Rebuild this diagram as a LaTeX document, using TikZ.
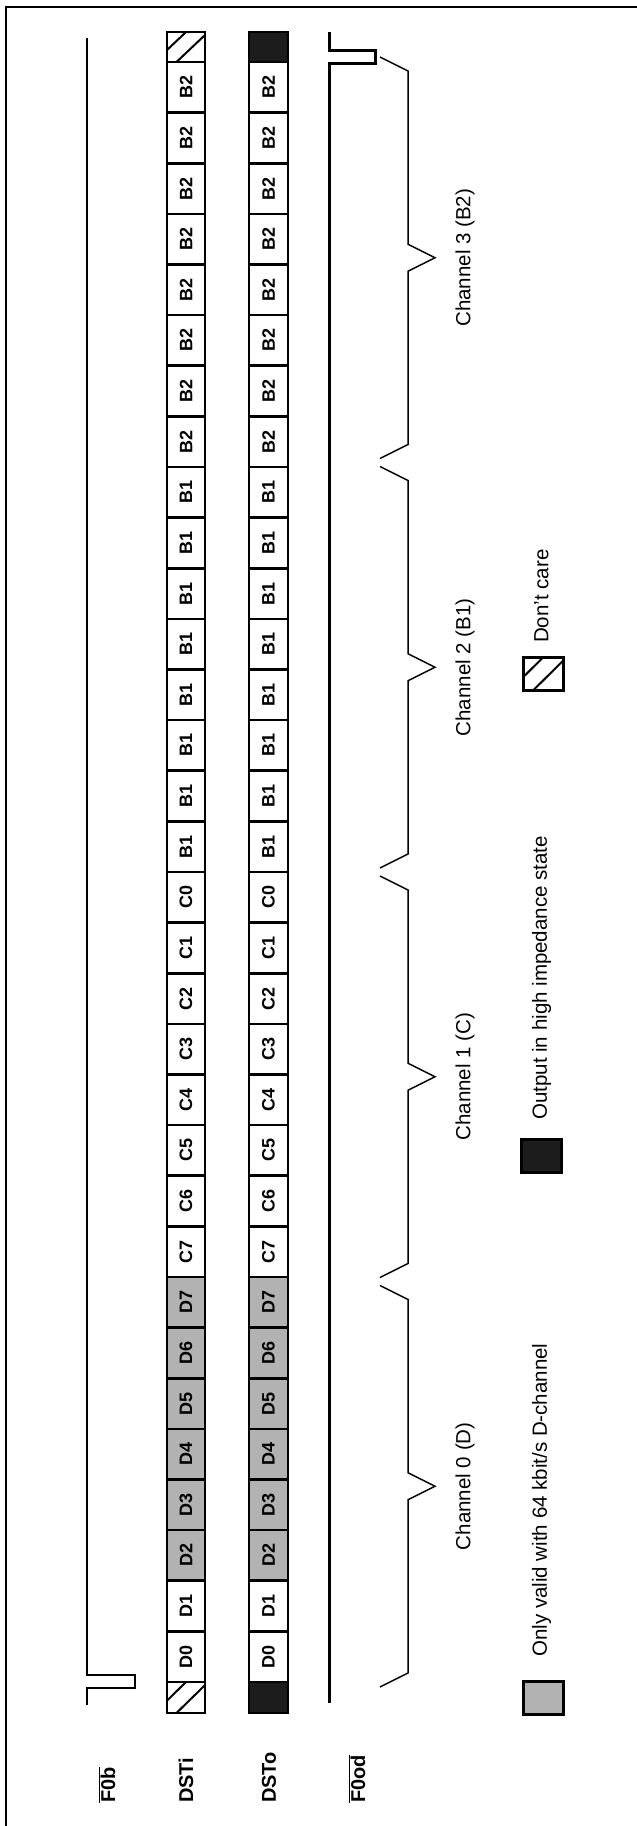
\documentclass[tikz,border=0pt]{standalone}
\usepackage{fontspec}
\setmainfont{Liberation Sans}
\usetikzlibrary{calc}
\begin{document}
\begin{tikzpicture}[x=1pt,y=-1pt,
  cellbox/.style={draw, line width=2.6pt, rotate=90, minimum width=50.625pt, minimum height=38pt, inner sep=0pt, font=\fontsize{18}{20}\selectfont\bfseries},
  endbox/.style={draw, line width=2.6pt, minimum width=38pt, minimum height=30pt, inner sep=0pt},
  hatch/.style={path picture={
     \draw[line width=2pt] ($(path picture bounding box.south west)!0.4!(path picture bounding box.north west)$) -- ($(path picture bounding box.north west)!0.5!(path picture bounding box.north east)$);
     \draw[line width=2pt] ($(path picture bounding box.south west)!0.25!(path picture bounding box.south east)$) -- ($(path picture bounding box.south east)!0.9!(path picture bounding box.north east)$);}},
  darkfill/.style={fill=black!89},
  sig/.style={font=\fontsize{20}{22}\selectfont\bfseries, rotate=90, anchor=west, inner sep=0pt},
  chan/.style={font=\fontsize{20.5}{22}\selectfont, rotate=90, anchor=center, inner sep=0pt},
  legtext/.style={font=\fontsize{20.5}{22}\selectfont, rotate=90, anchor=west, inner sep=0pt},
  legbox/.style={draw, line width=3pt, minimum width=40pt, minimum height=33pt, inner sep=0pt},
  brace/.style={line width=1.5pt, line join=miter}
]
\useasboundingbox (0,0) rectangle (637,1826);
% frame
\draw[line width=2pt] (6,1840) -- (6,7) -- (650,7);

% F0b waveform
\draw[line width=2pt] (87,38) -- (87,1675) -- (135,1675) -- (135,1688) -- (87,1688) -- (87,1705);
% F0od waveform
\draw[line width=3pt] (329,32) -- (329,50) -- (375,50) -- (375,63) -- (329,63) -- (329,1703);

% end cells
\node[endbox, hatch] (itop) at (186,47) {};
\node[endbox, hatch, minimum height=31pt] (ibot) at (186,1697.5) {};
\node[endbox, darkfill, minimum width=39pt] (otop) at (268.5,47) {};
\node[endbox, darkfill, minimum width=39pt, minimum height=31pt] (obot) at (268.5,1697.5) {};

% data cells
\foreach \lab/\fc [count=\k from 0] in {B2/white,B2/white,B2/white,B2/white,B2/white,B2/white,B2/white,B2/white,
  B1/white,B1/white,B1/white,B1/white,B1/white,B1/white,B1/white,B1/white,
  C0/white,C1/white,C2/white,C3/white,C4/white,C5/white,C6/white,C7/white,
  D7/black!30,D6/black!30,D5/black!30,D4/black!30,D3/black!30,D2/black!30,D1/white,D0/white}{
  \pgfmathsetmacro\yy{62+50.625*(\k+0.5)}
  \node[cellbox, fill=\fc] (i\k) at (186,\yy) {\lab};
  \node[cellbox, fill=\fc, minimum height=39pt] (o\k) at (268.5,\yy) {\lab};
}

% signal labels
\node[sig] (lF0b) at (107,1803) {$\overline{\hbox{F0b}}$};
\node[sig] (lDSTi) at (186,1803) {DSTi};
\node[sig] (lDSTo) at (269,1803) {DSTo};
\node[sig] (lF0od) at (357,1803) {$\overline{\hbox{F0od}}$};

% braces
\foreach \j/\txt in {0/{Channel 3 (B2)},1/{Channel 2 (B1)},2/{Channel 1 (C)},3/{Channel 0 (D)}}{
  \pgfmathsetmacro\ba{53+409.5*\j}
  \pgfmathsetmacro\bb{53+409.5*(\j+1)}
  \pgfmathsetmacro\cc{(\ba+\bb)/2}
  \draw[brace] (380,\ba+4) -- (408,\ba+18) -- (408,\cc-13.5) -- (435,\cc) -- (408,\cc+13.5) -- (408,\bb-18) -- (380,\bb-4);
  \node[chan] (ch\j) at (465,\cc) {\txt};
}

% legend
\node[legbox, hatch] (lgdc) at (543.5,673.5) {};
\node[legtext] (tdc) at (541.5,643) {Don't care};
\node[legbox, darkfill] (lghi) at (541,1156) {};
\node[legtext] (thi) at (541.5,1120) {Output in high impedance state};
\node[legbox, fill=black!30] (lgd) at (543.5,1697.5) {};
\node[legtext] (td) at (541.5,1657) {Only valid with 64 kbit/s D-channel};
\end{tikzpicture}
\end{document}
